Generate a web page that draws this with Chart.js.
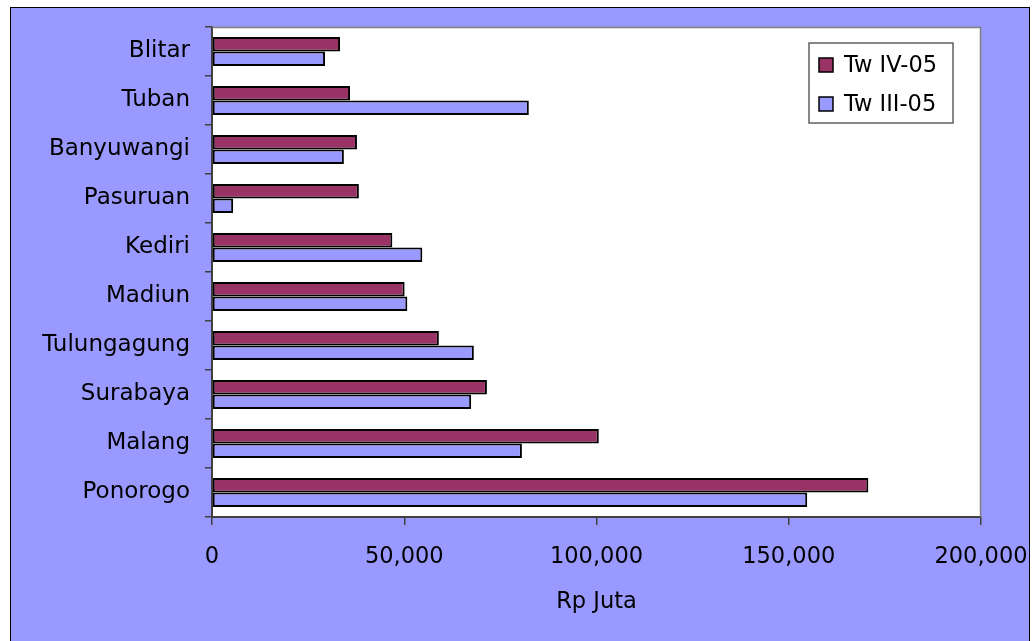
<!DOCTYPE html>
<html lang="id">
<head>
    <meta charset="UTF-8">
    <title>Rp Juta per Kota</title>
    <script src="https://cdn.jsdelivr.net/npm/chart.js"></script>
    <style>
        body {
            margin: 0;
            background-color: #ffffff;
            overflow: hidden;
        }
        .panel {
            position: absolute;
            left: 10px;
            top: 7px;
            width: 1018px;
            height: 660px;
            background-color: #9999ff;
            border: 1px solid #000000;
        }
        canvas {
            display: block;
        }
    </style>
</head>
<body>

<div class="panel">
    <canvas id="grafik" width="1018" height="633"></canvas>
</div>

<script>
    // Kota (urut dari atas ke bawah)
    const kota = ['Blitar', 'Tuban', 'Banyuwangi', 'Pasuruan', 'Kediri', 'Madiun',
                  'Tulungagung', 'Surabaya', 'Malang', 'Ponorogo'];

    // Nilai dalam Rp Juta
    const twIV05 = [33300, 35900, 37700, 38200, 46900, 50100, 59000, 71500, 100600, 170700];
    const twIII05 = [29400, 82400, 34300, 5500, 54700, 50800, 68100, 67400, 80600, 154800];

    const labelSeri = ['Tw IV-05', 'Tw III-05'];
    const warnaSeri = ['#993366', '#9999ff'];

    const FONT = 'DejaVu Sans';

    // area plot putih dengan garis abu-abu di atas dan kanan
    const areaPlot = {
        id: 'areaPlot',
        beforeDraw(chart) {
            const a = chart.chartArea;
            const ctx = chart.ctx;
            ctx.save();
            ctx.fillStyle = '#ffffff';
            ctx.fillRect(a.left, a.top, a.right - a.left, a.bottom - a.top);
            ctx.restore();
        },
        afterDraw(chart) {
            const a = chart.chartArea;
            const ctx = chart.ctx;
            ctx.save();
            ctx.strokeStyle = '#808080';
            ctx.lineWidth = 1.5;
            ctx.beginPath();
            ctx.moveTo(a.left, a.top + 0.5);
            ctx.lineTo(a.right - 0.5, a.top + 0.5);
            ctx.lineTo(a.right - 0.5, a.bottom);
            ctx.stroke();
            ctx.restore();
        }
    };

    // legenda dalam kotak
    const legendaKotak = {
        id: 'legendaKotak',
        afterDraw(chart) {
            const ctx = chart.ctx;
            const x = 798, y = 35, w = 144, h = 80;
            ctx.save();
            ctx.fillStyle = '#ffffff';
            ctx.fillRect(x, y, w, h);
            ctx.strokeStyle = '#606060';
            ctx.lineWidth = 1.5;
            ctx.strokeRect(x, y, w, h);
            ctx.font = '22.5px "' + FONT + '"';
            ctx.textBaseline = 'middle';
            chart.data.datasets.forEach((ds, i) => {
                const cy = y + 22 + i * 39;
                ctx.fillStyle = ds.backgroundColor;
                ctx.fillRect(x + 10, cy - 7, 14, 14);
                ctx.strokeStyle = '#000000';
                ctx.lineWidth = 1.5;
                ctx.strokeRect(x + 10, cy - 7, 14, 14);
                ctx.fillStyle = '#000000';
                ctx.fillText(ds.label, x + 35, cy + 1);
            });
            ctx.restore();
        }
    };

    new Chart(document.getElementById('grafik').getContext('2d'), {
        type: 'bar',
        data: {
            labels: kota,
            datasets: [{
                label: labelSeri[0],
                data: twIV05,
                backgroundColor: warnaSeri[0],
                borderColor: '#000000',
                borderWidth: 2,
                borderSkipped: false
            }, {
                label: labelSeri[1],
                data: twIII05,
                backgroundColor: warnaSeri[1],
                borderColor: '#000000',
                borderWidth: 2,
                borderSkipped: false
            }]
        },
        options: {
            indexAxis: 'y',
            responsive: false,
            animation: false,
            layout: {
                padding: { top: 19, right: 48, left: 0, bottom: 0 }
            },
            datasets: {
                bar: {
                    categoryPercentage: 0.59,
                    barPercentage: 1
                }
            },
            plugins: {
                legend: { display: false },
                tooltip: { enabled: false }
            },
            scales: {
                x: {
                    min: 0,
                    max: 200000,
                    ticks: {
                        stepSize: 50000,
                        color: '#000000',
                        padding: 19,
                        maxRotation: 0,
                        font: { family: FONT, size: 22.5 },
                        callback: v => v.toLocaleString('en-US')
                    },
                    grid: {
                        drawOnChartArea: false,
                        tickLength: 8,
                        color: '#404040',
                        lineWidth: 1.5
                    },
                    border: { color: '#404040', width: 2 },
                    title: {
                        display: true,
                        text: 'Rp Juta',
                        color: '#000000',
                        font: { family: FONT, size: 22.5 },
                        padding: { top: 0, bottom: 25 }
                    },
                    afterFit(scale) {
                        scale.height = 124;
                        scale.paddingLeft = 0;
                        scale.paddingRight = 0;
                    }
                },
                y: {
                    ticks: {
                        color: '#000000',
                        padding: 15,
                        font: { family: FONT, size: 23 }
                    },
                    grid: {
                        drawOnChartArea: false,
                        tickLength: 7,
                        color: '#404040',
                        lineWidth: 1.5
                    },
                    border: { color: '#404040', width: 2 },
                    afterFit(scale) {
                        scale.width = 201;
                        scale.paddingTop = 0;
                        scale.paddingBottom = 0;
                    }
                }
            }
        },
        plugins: [areaPlot, legendaKotak]
    });
</script>

</body>
</html>
